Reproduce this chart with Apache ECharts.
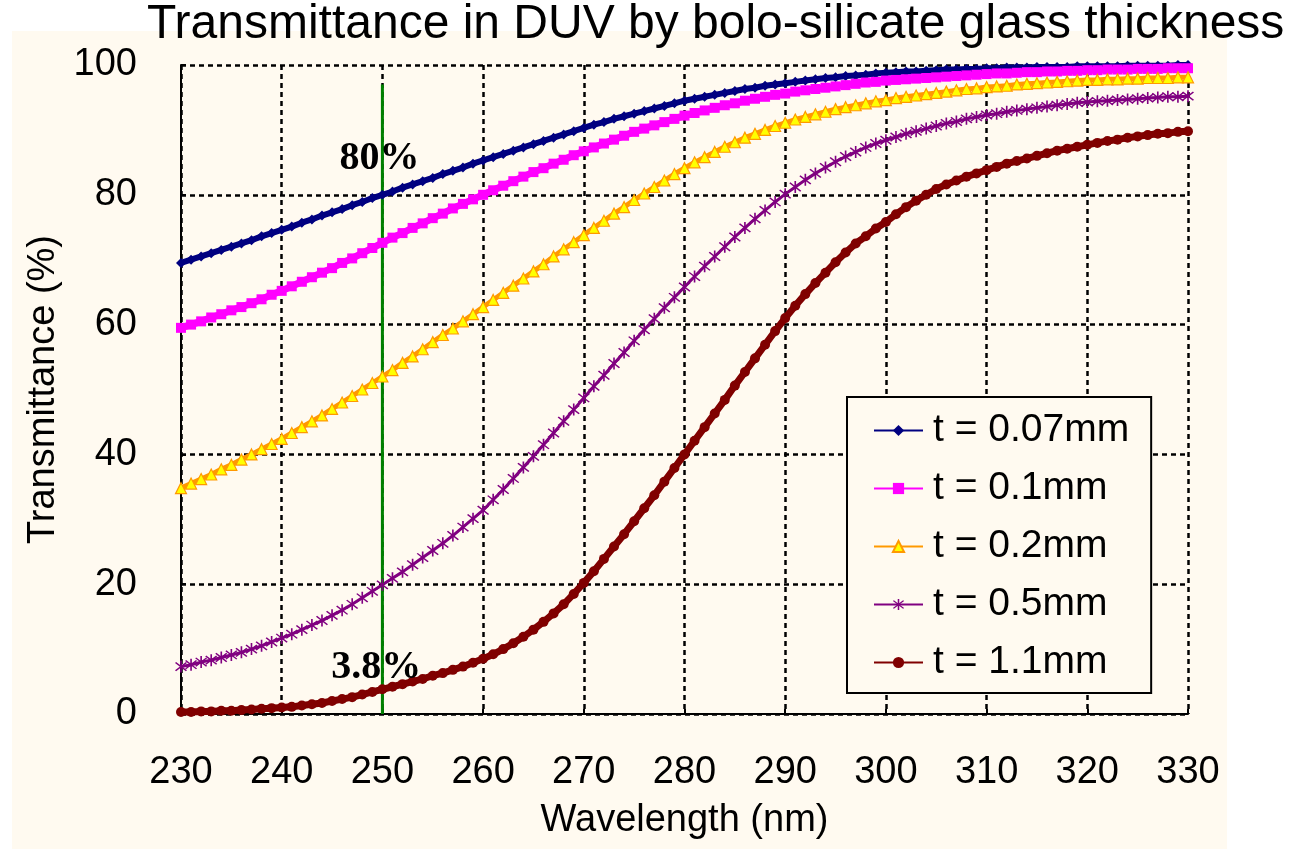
<!DOCTYPE html>
<html><head><meta charset="utf-8">
<script src="https://cdn.jsdelivr.net/npm/echarts@6/dist/echarts.min.js"></script>
<style>html,body{margin:0;padding:0;background:#fff}#c{width:1289px;height:849px}</style>
</head><body><div id="c"></div>
<script>
const titleText = 'Transmittance in DUV by bolo-silicate glass thickness';
const xAxisName = 'Wavelength (nm)';
const yAxisName = 'Transmittance (%)';
const seriesNames = ['t = 0.07mm', 't = 0.1mm', 't = 0.2mm', 't = 0.5mm', 't = 1.1mm'];

const wavelength = [
  230, 231, 232, 233, 234, 235, 236, 237, 238, 239,
  240, 241, 242, 243, 244, 245, 246, 247, 248, 249,
  250, 251, 252, 253, 254, 255, 256, 257, 258, 259,
  260, 261, 262, 263, 264, 265, 266, 267, 268, 269,
  270, 271, 272, 273, 274, 275, 276, 277, 278, 279,
  280, 281, 282, 283, 284, 285, 286, 287, 288, 289,
  290, 291, 292, 293, 294, 295, 296, 297, 298, 299,
  300, 301, 302, 303, 304, 305, 306, 307, 308, 309,
  310, 311, 312, 313, 314, 315, 316, 317, 318, 319,
  320, 321, 322, 323, 324, 325, 326, 327, 328, 329,
  330
];

const t007 = [
  69.5, 70.0, 70.5, 71.0, 71.5, 72.0, 72.5, 73.0, 73.6, 74.1,
  74.6, 75.1, 75.7, 76.2, 76.8, 77.3, 77.8, 78.4, 78.9, 79.5,
  80.0, 80.5, 81.1, 81.6, 82.1, 82.6, 83.2, 83.7, 84.2, 84.8,
  85.3, 85.8, 86.3, 86.8, 87.3, 87.8, 88.3, 88.8, 89.3, 89.8,
  90.3, 90.8, 91.2, 91.7, 92.1, 92.5, 92.9, 93.3, 93.7, 94.1,
  94.5, 94.8, 95.1, 95.4, 95.7, 96.0, 96.3, 96.5, 96.8, 97.0,
  97.2, 97.4, 97.6, 97.8, 98.0, 98.1, 98.3, 98.4, 98.5, 98.7,
  98.8, 98.9, 99.0, 99.0, 99.1, 99.2, 99.3, 99.3, 99.4, 99.4,
  99.5, 99.5, 99.6, 99.6, 99.6, 99.7, 99.7, 99.7, 99.7, 99.8,
  99.8, 99.8, 99.8, 99.8, 99.9, 99.9, 99.9, 99.9, 99.9, 100.0,
  100.0
];

const t01 = [
  59.5, 60.0, 60.5, 61.1, 61.6, 62.2, 62.7, 63.3, 63.9, 64.6,
  65.2, 65.9, 66.6, 67.3, 68.0, 68.7, 69.5, 70.2, 71.0, 71.8,
  72.6, 73.4, 74.1, 74.9, 75.6, 76.4, 77.1, 77.9, 78.6, 79.3,
  80.0, 80.7, 81.4, 82.1, 82.8, 83.5, 84.1, 84.8, 85.4, 86.1,
  86.7, 87.3, 87.9, 88.5, 89.1, 89.7, 90.2, 90.7, 91.2, 91.7,
  92.2, 92.6, 93.0, 93.4, 93.8, 94.1, 94.5, 94.8, 95.1, 95.4,
  95.6, 95.9, 96.1, 96.3, 96.5, 96.7, 96.9, 97.1, 97.3, 97.4,
  97.6, 97.7, 97.8, 97.9, 98.0, 98.1, 98.2, 98.3, 98.4, 98.5,
  98.6, 98.7, 98.7, 98.8, 98.9, 98.9, 99.0, 99.0, 99.1, 99.1,
  99.2, 99.2, 99.3, 99.3, 99.3, 99.4, 99.4, 99.4, 99.5, 99.5,
  99.5
];

const t02 = [
  34.8, 35.5, 36.2, 36.9, 37.7, 38.4, 39.2, 40.0, 40.8, 41.6,
  42.4, 43.3, 44.2, 45.1, 46.0, 47.0, 48.0, 49.0, 50.0, 51.0,
  52.0, 53.0, 54.1, 55.1, 56.2, 57.3, 58.4, 59.4, 60.5, 61.6,
  62.7, 63.8, 64.9, 66.0, 67.1, 68.2, 69.3, 70.5, 71.6, 72.7,
  73.8, 74.9, 76.0, 77.1, 78.1, 79.2, 80.2, 81.2, 82.2, 83.2,
  84.1, 85.0, 85.8, 86.6, 87.4, 88.1, 88.8, 89.4, 90.0, 90.6,
  91.1, 91.6, 92.0, 92.4, 92.8, 93.2, 93.5, 93.8, 94.1, 94.4,
  94.6, 94.9, 95.1, 95.3, 95.5, 95.7, 95.9, 96.1, 96.3, 96.4,
  96.6, 96.7, 96.8, 97.0, 97.1, 97.2, 97.3, 97.4, 97.5, 97.6,
  97.7, 97.7, 97.8, 97.8, 97.9, 97.9, 98.0, 98.0, 98.0, 98.1,
  98.1
];

const t05 = [
  7.3, 7.6, 8.0, 8.3, 8.7, 9.1, 9.5, 10.0, 10.5, 11.1,
  11.7, 12.3, 13.0, 13.7, 14.4, 15.2, 16.0, 16.9, 17.9, 18.9,
  19.9, 20.9, 21.9, 23.0, 24.1, 25.2, 26.3, 27.5, 28.8, 30.1,
  31.4, 33.0, 34.6, 36.3, 38.0, 39.7, 41.5, 43.3, 45.1, 46.9,
  48.7, 50.5, 52.2, 54.0, 55.7, 57.5, 59.2, 60.9, 62.6, 64.2,
  65.8, 67.4, 69.0, 70.5, 72.0, 73.5, 74.9, 76.3, 77.6, 78.9,
  80.1, 81.2, 82.3, 83.3, 84.2, 85.1, 85.9, 86.6, 87.3, 87.9,
  88.4, 88.9, 89.4, 89.8, 90.2, 90.6, 91.0, 91.3, 91.7, 92.0,
  92.3, 92.5, 92.8, 93.0, 93.2, 93.4, 93.6, 93.8, 94.0, 94.2,
  94.3, 94.4, 94.5, 94.6, 94.7, 94.8, 94.9, 95.0, 95.1, 95.1,
  95.2
];

const t11 = [
  0.3, 0.3, 0.4, 0.4, 0.5, 0.5, 0.6, 0.7, 0.8, 0.9,
  1.0, 1.1, 1.3, 1.5, 1.7, 2.0, 2.3, 2.6, 3.0, 3.4,
  3.8, 4.2, 4.6, 5.0, 5.4, 5.9, 6.3, 6.8, 7.3, 7.9,
  8.5, 9.2, 10.0, 10.9, 11.9, 13.0, 14.2, 15.5, 16.9, 18.5,
  20.2, 22.0, 23.9, 25.8, 27.7, 29.7, 31.7, 33.7, 35.8, 37.9,
  40.0, 42.1, 44.2, 46.3, 48.4, 50.6, 52.7, 54.8, 56.9, 59.0,
  61.0, 62.9, 64.7, 66.4, 68.0, 69.6, 71.1, 72.5, 73.6, 74.8,
  75.8, 77.0, 78.1, 79.1, 80.0, 80.9, 81.6, 82.2, 82.8, 83.3,
  83.8, 84.3, 84.8, 85.2, 85.6, 86.0, 86.4, 86.8, 87.1, 87.4,
  87.7, 88.0, 88.3, 88.5, 88.8, 89.0, 89.2, 89.4, 89.5, 89.7,
  89.8
];

const markerLineX = [250, 250];
const markerLineY = [0, 97];
const annotationText = ['80%', '3.8%'];
const annotationX = [249.7, 249.4];
const annotationY = [85.5, 7.1];

const pair = (xs, ys) => xs.map((x, i) => [x, ys[i]]);

const asterisk = 'path://M4.4,0 L5.6,0 L5.6,10 L4.4,10 Z M0.6,1.9 L1.4,1.1 L9.4,8.1 L8.6,8.9 Z M8.6,1.1 L9.4,1.9 L1.4,8.9 L0.6,8.1 Z';

const styles = [
  { line: '#000080', fill: '#000080', border: '#000080', symbol: 'diamond', size: 10, width: 6 },
  { line: '#FF00FF', fill: '#FF00FF', border: '#FF00FF', symbol: 'rect', size: 10, width: 7 },
  { line: '#FF9900', fill: '#FFFF00', border: '#FF9900', symbol: 'triangle', size: 11, width: 5 },
  { line: '#800080', fill: '#800080', border: '#800080', symbol: asterisk, size: 12, width: 3 },
  { line: '#800000', fill: '#800000', border: '#800000', symbol: 'circle', size: 10, width: 7 }
];
const values = [t007, t01, t02, t05, t11];

const FONT = "'Liberation Sans', Arial, sans-serif";

const series = values.map((v, i) => ({
  name: seriesNames[i],
  type: 'line',
  data: pair(wavelength, v),
  symbol: styles[i].symbol,
  symbolSize: styles[i].size,
  showSymbol: true,
  clip: false,
  animation: false,
  lineStyle: { color: styles[i].line, width: styles[i].width },
  itemStyle: { color: styles[i].fill, borderColor: styles[i].border, borderWidth: i === 2 ? 1.2 : 0 },
  emphasis: { disabled: true }
}));

series.push({
  name: 'marker',
  type: 'line',
  data: pair(markerLineX, markerLineY),
  symbol: 'none',
  animation: false,
  z: 3,
  lineStyle: { color: '#008000', width: 3 },
  markPoint: {
    symbol: 'circle',
    symbolSize: 0,
    animation: false,
    label: {
      show: true,
      position: 'inside',
      fontFamily: "'Liberation Serif', 'Times New Roman', serif",
      fontWeight: 'bold',
      fontSize: 40,
      color: '#000',
      formatter: p => p.name
    },
    data: annotationText.map((t, i) => ({ name: t, coord: [annotationX[i], annotationY[i]] }))
  }
});

const chart = echarts.init(document.getElementById('c'), null, { renderer: 'canvas' });
chart.setOption({
  animation: false,
  backgroundColor: '#ffffff',
  graphic: [{
    type: 'rect', z: -10, silent: true,
    shape: { x: 12, y: 31, width: 1215, height: 818 },
    style: { fill: '#FFFAF0' }
  }],
  title: {
    text: titleText,
    left: 147, top: 1, padding: 0,
    textStyle: { fontFamily: FONT, fontSize: 48, fontWeight: 'normal', color: '#000' }
  },
  legend: {
    data: seriesNames,
    orient: 'vertical',
    left: 847, top: 397,
    padding: [14, 22, 11, 26],
    itemGap: 19,
    itemWidth: 49,
    itemHeight: 14,
    backgroundColor: '#FFFAF0',
    borderColor: '#000',
    borderWidth: 2,
    borderRadius: 0,
    selectedMode: false,
    textStyle: { fontFamily: FONT, fontSize: 39, color: '#000', lineHeight: 38, padding: [0, 0, 0, 5] }
  },
  grid: { left: 181, right: 101, top: 65, bottom: 135, containLabel: false },
  xAxis: {
    type: 'value', min: 230, max: 330, interval: 10,
    name: xAxisName, nameLocation: 'middle', nameGap: 88,
    nameTextStyle: { fontFamily: FONT, fontSize: 38, color: '#000' },
    axisLine: { lineStyle: { color: '#000', width: 2 } },
    axisTick: { show: true, inside: true, length: 5, lineStyle: { color: '#000', width: 2 } },
    axisLabel: { fontFamily: FONT, fontSize: 38, color: '#000', margin: 40 },
    splitLine: { show: true, lineStyle: { color: '#000', width: 2.5, type: [5, 4] } }
  },
  yAxis: {
    type: 'value', min: 0, max: 100, interval: 20,
    name: yAxisName, nameLocation: 'middle', nameGap: 114,
    nameTextStyle: { fontFamily: FONT, fontSize: 38, color: '#000' },
    axisLine: { show: true, lineStyle: { color: '#000', width: 2 } },
    axisTick: { show: true, inside: true, length: 5, lineStyle: { color: '#000', width: 2 } },
    axisLabel: { fontFamily: FONT, fontSize: 38, color: '#000', margin: 44 },
    splitLine: { show: true, lineStyle: { color: '#000', width: 2.5, type: [5, 4] } }
  },
  series: series
});
</script></body></html>
